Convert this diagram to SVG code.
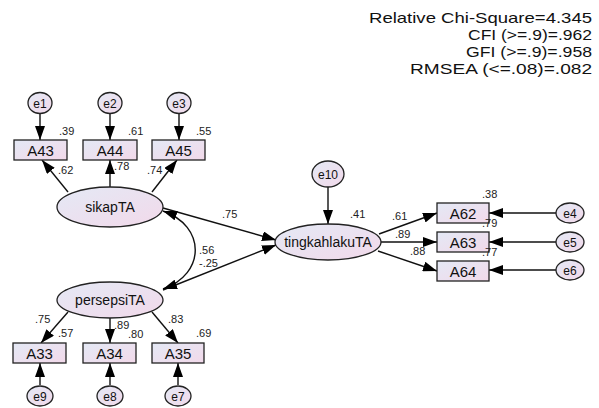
<svg xmlns="http://www.w3.org/2000/svg" width="599" height="408" viewBox="0 0 599 408">
<defs>
<linearGradient id="g" x1="0" y1="0" x2="1" y2="1">
<stop offset="0" stop-color="#e4e9f5"/>
<stop offset="1" stop-color="#f2d9ea"/>
</linearGradient>
<marker id="ah" viewBox="0 0 14 10" refX="14" refY="5" markerWidth="14" markerHeight="10" markerUnits="userSpaceOnUse" orient="auto-start-reverse">
<path d="M0,0 L14,5 L0,10 Z" fill="#000"/>
</marker>
</defs>
<style>
.n{fill:url(#g);stroke:#222;stroke-width:1.3}
.c{fill:none;stroke:#111;stroke-width:1.4;marker-end:url(#ah)}
.t{font-family:"Liberation Sans",Arial,sans-serif;fill:#111;text-anchor:middle}
.nl{font-size:15px}
.ll{font-size:14px}
.el{font-size:12px}
.v{font-family:"Liberation Sans",Arial,sans-serif;font-size:11px;fill:#222}
.fit{font-family:"Liberation Sans",Arial,sans-serif;font-size:15px;fill:#111}
</style>
<rect width="599" height="408" fill="#fff"/>
<g id="fit">
<text class="fit" x="369" y="23" textLength="223" lengthAdjust="spacingAndGlyphs">Relative Chi-Square=4.345</text>
<text class="fit" x="468" y="40" textLength="124" lengthAdjust="spacingAndGlyphs">CFI (&gt;=.9)=.962</text>
<text class="fit" x="466" y="57" textLength="126" lengthAdjust="spacingAndGlyphs">GFI (&gt;=.9)=.958</text>
<text class="fit" x="410" y="74" textLength="182" lengthAdjust="spacingAndGlyphs">RMSEA (&lt;=.08)=.082</text>
</g>
<g id="connectors">
<line class="c" x1="40" y1="114" x2="40" y2="140"/>
<line class="c" x1="110" y1="114" x2="110" y2="140"/>
<line class="c" x1="179" y1="114" x2="179" y2="140"/>
<line class="c" x1="68" y1="192" x2="42" y2="160"/>
<line class="c" x1="110" y1="187" x2="110" y2="160"/>
<line class="c" x1="152" y1="192" x2="177" y2="160"/>
<line class="c" x1="163" y1="208" x2="276" y2="240"/>
<line class="c" x1="163" y1="290" x2="276" y2="245"/>
<path class="c" d="M163,211 C206,226 206,274 163,289" marker-start="url(#ah)"/>
<line class="c" x1="328" y1="187" x2="328" y2="224"/>
<line class="c" x1="379" y1="234" x2="437" y2="213"/>
<line class="c" x1="381" y1="242" x2="437" y2="242"/>
<line class="c" x1="378" y1="251" x2="437" y2="271"/>
<line class="c" x1="556" y1="213" x2="489" y2="213"/>
<line class="c" x1="556" y1="242" x2="489" y2="242"/>
<line class="c" x1="556" y1="270" x2="489" y2="270"/>
<line class="c" x1="68" y1="312" x2="41" y2="343"/>
<line class="c" x1="110" y1="318" x2="110" y2="343"/>
<line class="c" x1="152" y1="312" x2="178" y2="343"/>
<line class="c" x1="40" y1="385" x2="40" y2="363"/>
<line class="c" x1="110" y1="385" x2="110" y2="363"/>
<line class="c" x1="178" y1="385" x2="178" y2="363"/>
</g>
<g id="e1"><ellipse class="n" cx="40" cy="103" rx="12" ry="10.5"/><text class="t el" x="40" y="107.5">e1</text></g>
<g id="e2"><ellipse class="n" cx="110" cy="103" rx="12" ry="10.5"/><text class="t el" x="110" y="107.5">e2</text></g>
<g id="e3"><ellipse class="n" cx="179" cy="103" rx="12" ry="10.5"/><text class="t el" x="179" y="107.5">e3</text></g>
<g id="A43"><rect class="n" x="14" y="140" width="53" height="20"/><text class="t nl" x="40.5" y="155.5">A43</text></g>
<g id="A44"><rect class="n" x="83" y="140" width="54" height="20"/><text class="t nl" x="110" y="155.5">A44</text></g>
<g id="A45"><rect class="n" x="152" y="140" width="53" height="20"/><text class="t nl" x="178.5" y="155.5">A45</text></g>
<g id="sikapTA"><ellipse class="n" cx="110" cy="207" rx="53" ry="20"/><text class="t ll" x="110" y="212">sikapTA</text></g>
<g id="persepsiTA"><ellipse class="n" cx="110" cy="300" rx="53" ry="18"/><text class="t ll" x="110" y="305">persepsiTA</text></g>
<g id="tingkahlakuTA"><ellipse class="n" cx="328" cy="242" rx="53" ry="18"/><text class="t ll" x="328" y="247">tingkahlakuTA</text></g>
<g id="e10"><ellipse class="n" cx="328" cy="174" rx="16" ry="13"/><text class="t el" x="328" y="178.5">e10</text></g>
<g id="A62"><rect class="n" x="437" y="203" width="52" height="20"/><text class="t nl" x="463" y="218.5">A62</text></g>
<g id="A63"><rect class="n" x="437" y="232" width="52" height="20"/><text class="t nl" x="463" y="247.5">A63</text></g>
<g id="A64"><rect class="n" x="437" y="261" width="52" height="20"/><text class="t nl" x="463" y="276.5">A64</text></g>
<g id="e4"><ellipse class="n" cx="570" cy="213" rx="14" ry="10"/><text class="t el" x="570" y="217.5">e4</text></g>
<g id="e5"><ellipse class="n" cx="570" cy="242" rx="14" ry="10"/><text class="t el" x="570" y="246.5">e5</text></g>
<g id="e6"><ellipse class="n" cx="570" cy="270" rx="14" ry="10"/><text class="t el" x="570" y="274.5">e6</text></g>
<g id="A33"><rect class="n" x="13" y="343" width="53" height="20"/><text class="t nl" x="39.5" y="358.5">A33</text></g>
<g id="A34"><rect class="n" x="83" y="343" width="53" height="20"/><text class="t nl" x="109.5" y="358.5">A34</text></g>
<g id="A35"><rect class="n" x="152" y="343" width="52" height="20"/><text class="t nl" x="178" y="358.5">A35</text></g>
<g id="e9"><ellipse class="n" cx="40" cy="396" rx="13" ry="10"/><text class="t el" x="40" y="400.5">e9</text></g>
<g id="e8"><ellipse class="n" cx="110" cy="396" rx="13" ry="10"/><text class="t el" x="110" y="400.5">e8</text></g>
<g id="e7"><ellipse class="n" cx="178" cy="396" rx="13" ry="10"/><text class="t el" x="178" y="400.5">e7</text></g>
<g id="values">
<text class="v" x="59" y="135">.39</text>
<text class="v" x="128" y="135">.61</text>
<text class="v" x="196" y="135">.55</text>
<text class="v" x="58" y="174">.62</text>
<text class="v" x="114" y="170">.78</text>
<text class="v" x="147" y="174">.74</text>
<text class="v" x="222" y="218">.75</text>
<text class="v" x="199" y="254">.56</text>
<text class="v" x="199" y="267">-.25</text>
<text class="v" x="350" y="218">.41</text>
<text class="v" x="392" y="220">.61</text>
<text class="v" x="395" y="238">.89</text>
<text class="v" x="410" y="255">.88</text>
<text class="v" x="482" y="198">.38</text>
<text class="v" x="482" y="227">.79</text>
<text class="v" x="482" y="256">.77</text>
<text class="v" x="35" y="323">.75</text>
<text class="v" x="58" y="337">.57</text>
<text class="v" x="114" y="329">.89</text>
<text class="v" x="128" y="338">.80</text>
<text class="v" x="168" y="323">.83</text>
<text class="v" x="196" y="337">.69</text>
</g>
</svg>
